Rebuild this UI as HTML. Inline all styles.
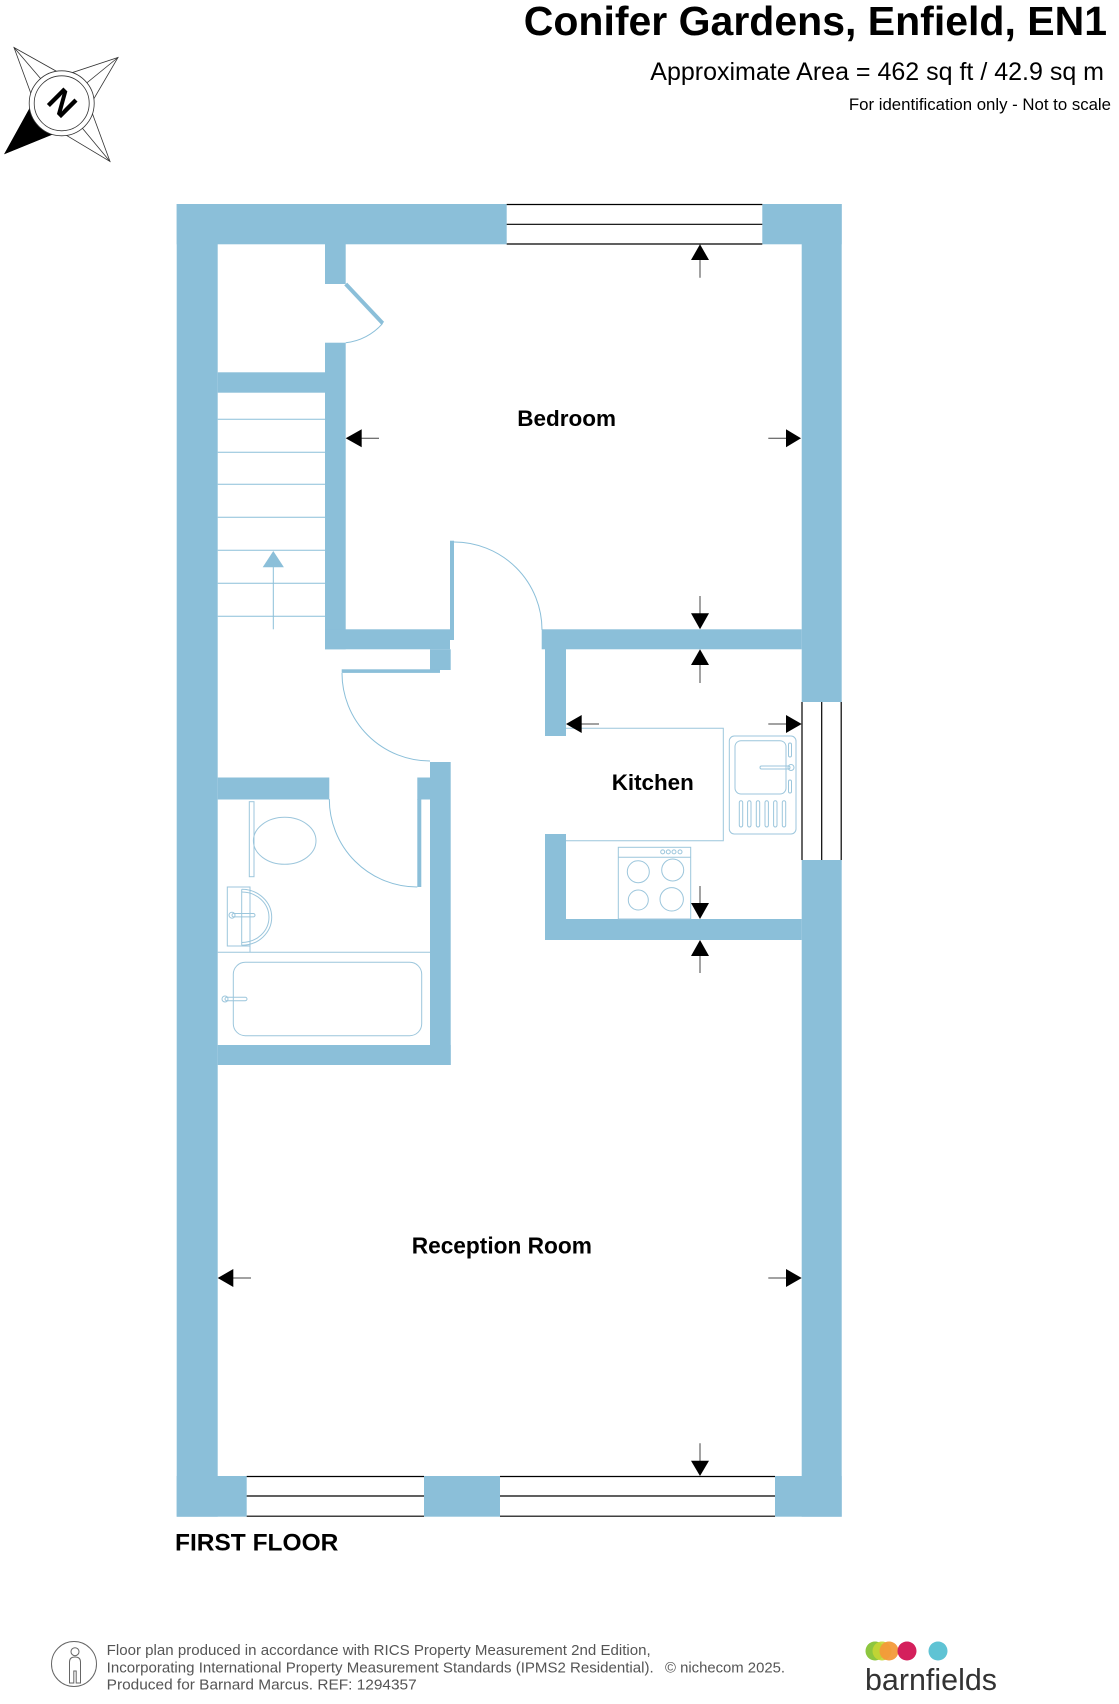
<!DOCTYPE html>
<html><head><meta charset="utf-8"><style>
html,body{margin:0;padding:0;background:#fff;}
svg{display:block;}
</style></head><body>
<svg width="1119" height="1704" viewBox="0 0 1119 1704" xmlns="http://www.w3.org/2000/svg" font-family="'Liberation Sans', Arial, sans-serif">
<rect width="1119" height="1704" fill="#fff"/>

<!-- Title -->
<text x="1107" y="35" font-size="41" font-weight="bold" text-anchor="end" fill="#000">Conifer Gardens, Enfield, EN1</text>
<text x="1104" y="80" font-size="25" text-anchor="end" fill="#000">Approximate Area = 462 sq ft / 42.9 sq m</text>
<text x="1111" y="110" font-size="16.8" text-anchor="end" fill="#000">For identification only - Not to scale</text>

<!-- Compass -->
<g stroke="#333" stroke-width="0.8" fill="#fff">
  <polygon points="14,47.5 63.8,75.4 118,57.5 89.6,106 110,161.5 59.5,131.2 5,153.5 33.8,101.3"/>
  <line x1="14" y1="47.5" x2="61.7" y2="103.3"/>
  <line x1="118" y1="57.5" x2="61.7" y2="103.3"/>
  <line x1="110" y1="161.5" x2="61.7" y2="103.3"/>
  <polygon points="5,153.5 33.8,101.3 61.7,103.3 59.5,131.2" fill="#000" stroke="#000"/>
  <circle cx="61.7" cy="103.3" r="32.5" fill="#fff"/>
  <circle cx="61.7" cy="103.3" r="27.5" fill="#fff"/>
</g>
<text x="61.7" y="103.3" font-size="34" font-weight="bold" text-anchor="middle" dominant-baseline="central" transform="rotate(45 61.7 103.3)" fill="#000">N</text>

<!-- Walls -->
<g fill="#8bbfd9">
  <rect x="176.7" y="204" width="41" height="1312.7"/>
  <rect x="801.7" y="204" width="40" height="498"/>
  <rect x="801.7" y="860" width="40" height="656.7"/>
  <rect x="176.7" y="204" width="330" height="40.3"/>
  <rect x="762.3" y="204" width="79.4" height="40.3"/>
  <rect x="176.7" y="1476" width="70" height="40.7"/>
  <rect x="424" y="1476" width="76" height="40.7"/>
  <rect x="775" y="1476" width="66.7" height="40.7"/>
  <rect x="325" y="244" width="20.7" height="40"/>
  <rect x="325" y="342.7" width="20.7" height="306.6"/>
  <rect x="217.7" y="372.3" width="107.3" height="20.4"/>
  <rect x="325" y="629.3" width="125" height="20"/>
  <rect x="430" y="649.3" width="20.7" height="20.7"/>
  <rect x="430" y="762" width="20.7" height="303"/>
  <rect x="217.7" y="777.5" width="111.6" height="22"/>
  <rect x="417.3" y="777.5" width="12.7" height="22"/>
  <rect x="217.7" y="1045" width="233" height="20"/>
  <rect x="541.7" y="629.3" width="260" height="20"/>
  <rect x="545" y="649" width="21" height="87"/>
  <rect x="545" y="834" width="21" height="106"/>
  <rect x="545" y="919" width="256.7" height="21"/>
  <rect x="450" y="540.7" width="4" height="99.3"/>
  <rect x="341.7" y="669.3" width="98.3" height="3.6"/>
  <rect x="417.3" y="799" width="4" height="88"/>
</g>
<line x1="345.7" y1="284" x2="382.7" y2="323.3" stroke="#8bbfd9" stroke-width="4"/>

<!-- door arcs -->
<g fill="none" stroke="#8bbfd9" stroke-width="1">
  <path d="M382.7 323.3 A57 57 0 0 1 345.7 342.7"/>
  <path d="M454 542 A88 88 0 0 1 542 630"/>
  <path d="M342 673 A88 88 0 0 0 430 761"/>
  <path d="M329.3 799 A88 88 0 0 0 417.3 887"/>
</g>

<!-- Windows -->
<g stroke="#000" stroke-width="1.2">
  <line x1="506.7" y1="204.5" x2="762.3" y2="204.5"/>
  <line x1="506.7" y1="224.3" x2="762.3" y2="224.3"/>
  <line x1="506.7" y1="244" x2="762.3" y2="244"/>
  <line x1="802" y1="702" x2="802" y2="860"/>
  <line x1="821.7" y1="702" x2="821.7" y2="860"/>
  <line x1="841.2" y1="702" x2="841.2" y2="860"/>
  <line x1="246.7" y1="1476.5" x2="424" y2="1476.5"/>
  <line x1="246.7" y1="1496" x2="424" y2="1496"/>
  <line x1="246.7" y1="1516.2" x2="424" y2="1516.2"/>
  <line x1="500" y1="1476.5" x2="775" y2="1476.5"/>
  <line x1="500" y1="1496" x2="775" y2="1496"/>
  <line x1="500" y1="1516.2" x2="775" y2="1516.2"/>
</g>

<!-- Stairs -->
<g stroke="#8bbfd9" stroke-width="1">
  <line x1="217.7" y1="419.3" x2="325" y2="419.3"/>
  <line x1="217.7" y1="452.3" x2="325" y2="452.3"/>
  <line x1="217.7" y1="484.3" x2="325" y2="484.3"/>
  <line x1="217.7" y1="517.3" x2="325" y2="517.3"/>
  <line x1="217.7" y1="550.3" x2="325" y2="550.3"/>
  <line x1="217.7" y1="583.3" x2="325" y2="583.3"/>
  <line x1="217.7" y1="616.3" x2="325" y2="616.3"/>
  <line x1="273.3" y1="566" x2="273.3" y2="629.3"/>
</g>
<polygon points="273.3,551 262.7,567.3 283.9,567.3" fill="#8bbfd9"/>

<!-- Kitchen fixtures -->
<g fill="none" stroke="#9cc6dc" stroke-width="1">
  <polyline points="566,728.3 723.3,728.3 723.3,840.7 566,840.7"/>
  <rect x="729.3" y="736" width="66.7" height="98" rx="5"/>
  <rect x="735" y="740.7" width="51" height="53.3" rx="6"/>
  <rect x="739.3" y="800.7" width="3.4" height="26.3" rx="1.7"/>
  <rect x="747.6" y="800.7" width="3.4" height="26.3" rx="1.7"/>
  <rect x="756.3" y="800.7" width="3.4" height="26.3" rx="1.7"/>
  <rect x="765" y="800.7" width="3.4" height="26.3" rx="1.7"/>
  <rect x="773.6" y="800.7" width="3.4" height="26.3" rx="1.7"/>
  <rect x="782.3" y="800.7" width="3.4" height="26.3" rx="1.7"/>
  <rect x="788.5" y="743" width="3" height="14" rx="1.5"/>
  <rect x="788.5" y="780" width="3" height="13" rx="1.5"/>
  <rect x="760" y="766" width="30" height="3" rx="1.5"/>
  <circle cx="791" cy="767.5" r="3"/>
  <rect x="618.3" y="847.3" width="72.4" height="71.7"/>
  <line x1="618.3" y1="857.3" x2="690.7" y2="857.3"/>
  <circle cx="638.3" cy="871.7" r="11"/>
  <circle cx="672.7" cy="870" r="11"/>
  <circle cx="638.3" cy="900" r="10"/>
  <circle cx="671.7" cy="899.3" r="11.7"/>
  <circle cx="662.7" cy="851.9" r="2"/>
  <circle cx="668.3" cy="851.9" r="2"/>
  <circle cx="674" cy="851.9" r="2"/>
  <circle cx="680" cy="851.9" r="2"/>
</g>

<!-- Bathroom fixtures -->
<g fill="none" stroke="#9cc6dc" stroke-width="1">
  <rect x="249.3" y="801.7" width="4.7" height="75"/>
  <ellipse cx="284.7" cy="840.8" rx="31.3" ry="23.5"/>
  <rect x="227.3" y="887" width="22.7" height="59"/>
  <path d="M241.7 889.3 A30 28 0 0 1 241.7 945.3"/>
  <path d="M241.7 892 A27 25 0 0 1 241.7 942.5"/>
  <line x1="241.7" y1="889.3" x2="241.7" y2="945.3"/>
  <rect x="232" y="913.5" width="23" height="3.4" rx="1.7"/>
  <circle cx="232" cy="915.2" r="3"/>
  <line x1="217.7" y1="952.3" x2="430" y2="952.3"/>
  <line x1="250" y1="946" x2="250" y2="952.3"/>
  <rect x="233.3" y="962.3" width="188.4" height="73.4" rx="12"/>
  <rect x="225" y="997.3" width="22" height="3.4" rx="1.7"/>
  <circle cx="225" cy="999" r="3"/>
</g>

<!-- Dimension arrows -->
<g stroke="#444" stroke-width="1">
  <line x1="700" y1="258" x2="700" y2="277.7"/>
  <line x1="360" y1="438.3" x2="379" y2="438.3"/>
  <line x1="768.3" y1="438.3" x2="788" y2="438.3"/>
  <line x1="700" y1="596" x2="700" y2="615"/>
  <line x1="700" y1="663" x2="700" y2="683"/>
  <line x1="580" y1="724" x2="599" y2="724"/>
  <line x1="768.3" y1="724" x2="788" y2="724"/>
  <line x1="700" y1="886" x2="700" y2="905"/>
  <line x1="700" y1="954" x2="700" y2="973"/>
  <line x1="231" y1="1278" x2="251" y2="1278"/>
  <line x1="768.3" y1="1278" x2="788" y2="1278"/>
  <line x1="700" y1="1443.3" x2="700" y2="1462"/>
</g>
<g fill="#000">
  <polygon points="700,244.3 691,260 709,260"/>
  <polygon points="345.7,438.3 361.7,429.3 361.7,447.3"/>
  <polygon points="801,438.3 786,429.3 786,447.3"/>
  <polygon points="700,629.3 691,613.3 709,613.3"/>
  <polygon points="700,649.3 691,665 709,665"/>
  <polygon points="566,724 581.7,715 581.7,733"/>
  <polygon points="801.7,724 786,715 786,733"/>
  <polygon points="700,919 691,903 709,903"/>
  <polygon points="700,940 691,956 709,956"/>
  <polygon points="217.7,1278 233.3,1269 233.3,1287"/>
  <polygon points="801.7,1278 786,1269 786,1287"/>
  <polygon points="700,1476 691,1460.7 709,1460.7"/>
</g>

<!-- Room labels -->
<g font-weight="bold" fill="#000">
  <text x="517.3" y="426" font-size="22.5">Bedroom</text>
  <text x="611.7" y="790" font-size="22.4">Kitchen</text>
  <text x="411.7" y="1253.3" font-size="22.7">Reception Room</text>
  <text x="175" y="1550.7" font-size="24.5">FIRST FLOOR</text>
</g>

<!-- Footer -->
<g fill="none" stroke="#666" stroke-width="1">
  <circle cx="74" cy="1664" r="22.5"/>
  <circle cx="75" cy="1651.7" r="4"/>
  <path d="M69.5 1683 V1662 Q69.5 1657 75 1657 Q80.5 1657 80.5 1662 V1683 H76.2 V1671 H73.8 V1683 Z"/>
</g>
<g fill="#555" font-size="15">
  <text x="106.7" y="1655" textLength="544" lengthAdjust="spacingAndGlyphs">Floor plan produced in accordance with RICS Property Measurement 2nd Edition,</text>
  <text x="106.7" y="1672.3" textLength="547" lengthAdjust="spacingAndGlyphs">Incorporating International Property Measurement Standards (IPMS2 Residential).</text>
  <text x="106.7" y="1689.3" textLength="310" lengthAdjust="spacingAndGlyphs">Produced for Barnard Marcus.   REF: 1294357</text>
  <text x="665" y="1672.3" textLength="120" lengthAdjust="spacingAndGlyphs">© nichecom 2025.</text>
</g>

<!-- barnfields logo -->
<circle cx="875" cy="1651" r="9.5" fill="#8dc63f"/>
<circle cx="882" cy="1651" r="9.5" fill="#c5d534" opacity="0.9"/>
<circle cx="889" cy="1651" r="9.5" fill="#f39a3a" opacity="0.95"/>
<circle cx="907" cy="1651" r="9.5" fill="#d4205c"/>
<circle cx="938" cy="1651" r="9.5" fill="#5fc3d4"/>
<text x="865" y="1690" font-size="31" fill="#333" textLength="132" lengthAdjust="spacingAndGlyphs">barnfields</text>
</svg>
</body></html>
